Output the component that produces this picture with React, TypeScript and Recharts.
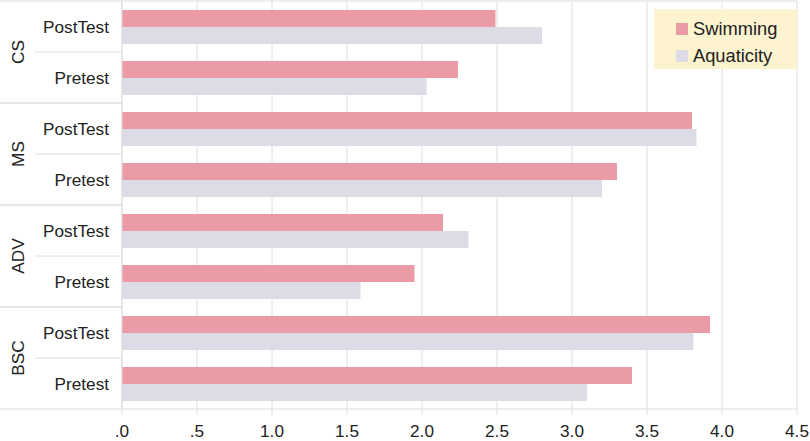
import React from "react";
import { BarChart, Bar, XAxis, YAxis, CartesianGrid } from "recharts";

const GROUPS = ["CS", "MS", "ADV", "BSC"];
const PHASES = ["PostTest", "Pretest"];
const SWIMMING = [2.49, 2.24, 3.8, 3.3, 2.14, 1.95, 3.92, 3.4];
const AQUATICITY = [2.8, 2.03, 3.83, 3.2, 2.31, 1.59, 3.81, 3.1];
const X_TICKS = [0, 0.5, 1, 1.5, 2, 2.5, 3, 3.5, 4, 4.5];

const SERIES = [
  { key: "swimming", name: "Swimming", color: "#eb9ba5" },
  { key: "aquaticity", name: "Aquaticity", color: "#dcdbe6" },
];

const rows = GROUPS.flatMap((group, gi) =>
  PHASES.map((phase, pi) => {
    const i = gi * PHASES.length + pi;
    return {
      key: `${group}-${phase}`,
      group,
      phase,
      swimming: SWIMMING[i],
      aquaticity: AQUATICITY[i],
    };
  })
);

const WIDTH = 810;
const HEIGHT = 441;
const MARGIN = { top: 1, right: 13, left: 0, bottom: 0 };
const Y_AXIS_W = 122;
const X_AXIS_H = 32;
const FONT = "'Liberation Sans', Arial, sans-serif";
const FONT_SIZE = 17.2;
const LINE = "#dedede";
const TEXT = "#222";

const band =
  (HEIGHT - MARGIN.top - MARGIN.bottom - X_AXIS_H) / rows.length;

const xTick = (v: number) => v.toFixed(1).replace(/^0/, "");

const CategoryTick = (props: any) => {
  const { y, payload } = props;
  const index = props.index ?? payload?.index ?? 0;
  const row = rows[index];
  if (!row) return null;
  const top = y - band / 2;
  const bottom = y + band / 2;
  const isFirst = row.phase === PHASES[0];
  return (
    <g>
      <text
        x={109}
        y={y}
        textAnchor="end"
        dominantBaseline="central"
        fontSize={FONT_SIZE}
        fontFamily={FONT}
        fill={TEXT}
      >
        {row.phase}
      </text>
      {isFirst ? (
        <>
          <line
            x1={0}
            x2={index === 0 ? WIDTH - MARGIN.right : Y_AXIS_W}
            y1={top}
            y2={top}
            stroke={LINE}
          />
          <line x1={35} x2={Y_AXIS_W} y1={bottom} y2={bottom} stroke={LINE} />
          <text
            x={18}
            y={bottom}
            transform={`rotate(-90 18 ${bottom})`}
            textAnchor="middle"
            dominantBaseline="central"
            fontSize={FONT_SIZE}
            fontFamily={FONT}
            fill={TEXT}
          >
            {row.group}
          </text>
        </>
      ) : (
        <line x1={0} x2={Y_AXIS_W} y1={bottom} y2={bottom} stroke={LINE} />
      )}
    </g>
  );
};

const LegendBox = () => (
  <div
    style={{
      position: "absolute",
      top: 9,
      left: 654,
      width: 121,
      background: "#fdf3cf",
      padding: "7px 0 0 22px",
      fontFamily: FONT,
      fontSize: 18.3,
      color: TEXT,
    }}
  >
    {SERIES.map((s) => (
      <div
        key={s.key}
        style={{ display: "flex", alignItems: "center", height: 26.5 }}
      >
        <span
          style={{
            width: 12,
            height: 12,
            background: s.color,
            marginRight: 5,
            display: "inline-block",
          }}
        />
        {s.name}
      </div>
    ))}
  </div>
);

export default function App() {
  return (
    <div style={{ width: WIDTH, height: HEIGHT, position: "relative" }}>
      <style>{"body{margin:0}"}</style>
      <BarChart
        width={WIDTH}
        height={HEIGHT}
        data={rows}
        layout="vertical"
        margin={MARGIN}
        barCategoryGap="17.6%"
        barGap={0}
      >
        <CartesianGrid horizontal={false} stroke={LINE} />
        <XAxis
          type="number"
          domain={[0, 4.5]}
          ticks={X_TICKS}
          tickFormatter={xTick}
          height={X_AXIS_H}
          axisLine={{ stroke: LINE }}
          tickLine={{ stroke: LINE }}
          tickSize={6}
          tickMargin={10}
          tick={{ fontSize: FONT_SIZE, fontFamily: FONT, fill: TEXT }}
          interval={0}
        />
        <YAxis
          type="category"
          dataKey="key"
          width={Y_AXIS_W}
          axisLine={{ stroke: LINE }}
          tickLine={false}
          tick={<CategoryTick />}
          interval={0}
        />
        {SERIES.map((s) => (
          <Bar
            key={s.key}
            dataKey={s.key}
            name={s.name}
            fill={s.color}
            isAnimationActive={false}
          />
        ))}
      </BarChart>
      <LegendBox />
    </div>
  );
}
